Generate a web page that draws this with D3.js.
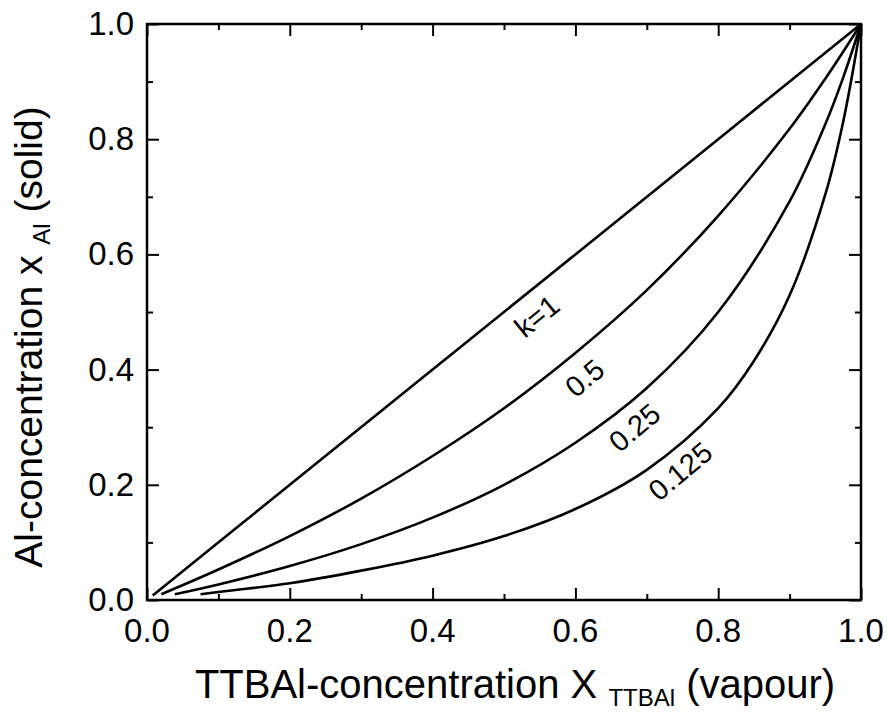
<!DOCTYPE html>
<html>
<head>
<meta charset="utf-8">
<script src="https://d3js.org/d3.v7.min.js"></script>
<style>
  body { margin: 0; background: #fff; }
  svg { font-family: "Liberation Sans", Arial, sans-serif; }
</style>
</head>
<body>
<svg id="chart" width="887" height="717"></svg>
<script>
// values: x = vapour fraction, y = solid fraction
var xK1 = [0.008, 0.2, 0.4, 0.6, 0.8, 1.0];
var yK1 = [0.008, 0.2, 0.4, 0.6, 0.8, 1.0];

var xK05 = [0.02, 0.1, 0.2, 0.3, 0.4, 0.5, 0.6, 0.7, 0.8, 0.9, 0.95, 1.0];
var yK05 = [0.010, 0.053, 0.111, 0.176, 0.25, 0.333, 0.429, 0.538, 0.667, 0.818, 0.905, 1.0];

var xK025 = [0.039, 0.1, 0.2, 0.3, 0.4, 0.5, 0.6, 0.7, 0.8, 0.9, 0.95, 0.975, 1.0];
var yK025 = [0.010, 0.027, 0.059, 0.097, 0.143, 0.2, 0.273, 0.368, 0.5, 0.692, 0.826, 0.907, 1.0];

var xK0125 = [0.075, 0.1, 0.15, 0.2, 0.3, 0.4, 0.5, 0.6, 0.7, 0.8, 0.85, 0.9, 0.95, 0.975, 1.0];
var yK0125 = [0.010, 0.014, 0.021, 0.029, 0.051, 0.077, 0.111, 0.158, 0.226, 0.333, 0.415, 0.529, 0.704, 0.830, 1.0];

var curveLabels = ["k=1", "0.5", "0.25", "0.125"];
// where each label sits (data coords)
var labelX = [0.555, 0.622, 0.692, 0.756];
var labelY = [0.479, 0.372, 0.286, 0.210];
var labelAngle = [-39, -40, -40, -40];

var majorTicks = [0, 0.2, 0.4, 0.6, 0.8, 1.0];
var minorTicks = [0.1, 0.3, 0.5, 0.7, 0.9];

(function draw() {
  var svg = d3.select("#chart");
  var pl = 147, pr = 861, pt = 24, pb = 600;

  var x = d3.scaleLinear().domain([0, 1]).range([pl, pr]);
  var y = d3.scaleLinear().domain([0, 1]).range([pb, pt]);

  var series = [
    d3.zip(xK1, yK1),
    d3.zip(xK05, yK05),
    d3.zip(xK025, yK025),
    d3.zip(xK0125, yK0125)
  ];

  // ticks pointing inward on all four sides
  function tickAxis(axisFn, scale, vals, size, tr) {
    svg.append("g")
      .attr("transform", tr)
      .call(axisFn(scale).tickValues(vals).tickSize(size).tickFormat(""))
      .call(function(g) {
        g.select(".domain").remove();
        g.selectAll("line").attr("stroke", "#000").attr("stroke-width", 2);
      });
  }
  tickAxis(d3.axisTop, x, majorTicks, 12, "translate(0," + pb + ")");
  tickAxis(d3.axisTop, x, minorTicks, 6, "translate(0," + pb + ")");
  tickAxis(d3.axisBottom, x, majorTicks, 12, "translate(0," + pt + ")");
  tickAxis(d3.axisBottom, x, minorTicks, 6, "translate(0," + pt + ")");
  tickAxis(d3.axisRight, y, majorTicks, 12, "translate(" + pl + ",0)");
  tickAxis(d3.axisRight, y, minorTicks, 6, "translate(" + pl + ",0)");
  tickAxis(d3.axisLeft, y, majorTicks, 12, "translate(" + pr + ",0)");
  tickAxis(d3.axisLeft, y, minorTicks, 6, "translate(" + pr + ",0)");

  // frame
  svg.append("rect")
    .attr("x", pl).attr("y", pt)
    .attr("width", pr - pl).attr("height", pb - pt)
    .attr("fill", "none").attr("stroke", "#000").attr("stroke-width", 2.5);

  // tick labels
  svg.append("g").selectAll("text").data(majorTicks).enter().append("text")
    .attr("x", function(d) { return x(d); })
    .attr("y", pb + 42)
    .attr("text-anchor", "middle")
    .attr("font-size", 33)
    .text(d3.format(".1f"));

  svg.append("g").selectAll("text").data(majorTicks).enter().append("text")
    .attr("x", pl - 13)
    .attr("y", function(d) { return y(d) + 11; })
    .attr("text-anchor", "end")
    .attr("font-size", 33)
    .text(d3.format(".1f"));

  // curves
  var line = d3.line()
    .x(function(d) { return x(d[0]); })
    .y(function(d) { return y(d[1]); })
    .curve(d3.curveCatmullRom.alpha(0.5));

  svg.append("g").selectAll("path").data(series).enter().append("path")
    .attr("d", line)
    .attr("fill", "none")
    .attr("stroke", "#000")
    .attr("stroke-width", 2.6);

  // curve labels
  svg.append("g").selectAll("text").data(curveLabels).enter().append("text")
    .attr("transform", function(d, i) {
      return "translate(" + x(labelX[i]) + "," + y(labelY[i]) + ") rotate(" + labelAngle[i] + ")";
    })
    .attr("text-anchor", "middle")
    .attr("font-size", 29)
    .text(function(d) { return d; });

  // x axis title
  var xt = svg.append("text")
    .attr("x", 515).attr("y", 698)
    .attr("text-anchor", "middle")
    .attr("font-size", 40);
  xt.append("tspan").text("TTBAl-concentration X ");
  xt.append("tspan").attr("font-size", 24).attr("dy", 8).text("TTBAl");
  xt.append("tspan").attr("dy", -8).text(" (vapour)");

  // y axis title
  var yt = svg.append("text")
    .attr("transform", "translate(42,337) rotate(-90)")
    .attr("text-anchor", "middle")
    .attr("font-size", 39);
  yt.append("tspan").text("Al-concentration x ");
  yt.append("tspan").attr("font-size", 24).attr("dy", 8).text("Al");
  yt.append("tspan").attr("dy", -8).text(" (solid)");
})();
</script>
</body>
</html>
